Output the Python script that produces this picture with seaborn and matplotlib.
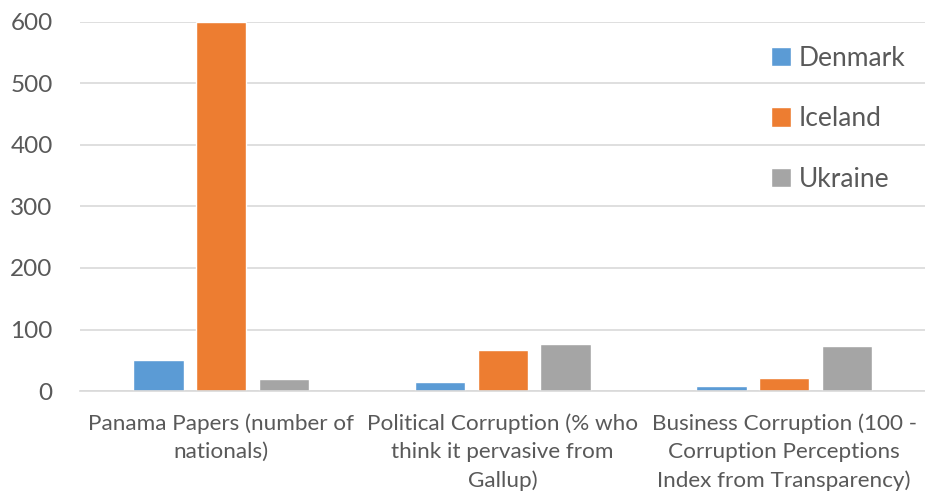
import matplotlib
matplotlib.use("Agg")
import matplotlib.pyplot as plt
import seaborn as sns
import pandas as pd

categories = ["Panama Papers (number of\nnationals)",
              "Political Corruption (% who\nthink it pervasive from\nGallup)",
              "Business Corruption (100 -\nCorruption Perceptions\nIndex from Transparency)"]
countries = ["Denmark", "Iceland", "Ukraine"]
denmark = [50, 15, 9]
iceland = [600, 67, 21]
ukraine = [19, 77, 73]
colors = ["#5B9BD5", "#ED7D31", "#A5A5A5"]

rows = []
for c, vals in zip(countries, [denmark, iceland, ukraine]):
    for cat, v in zip(categories, vals):
        rows.append({"category": cat, "country": c, "value": v})
df = pd.DataFrame(rows)

sns.set_theme(style="white")
plt.rcParams['font.family'] = ['Lato', 'DejaVu Sans']
text_color = "#595959"

fig = plt.figure(figsize=(9.25, 4.95), dpi=100)
ax = fig.add_axes([0.087, 0.21, 0.913, 0.746])
sns.barplot(data=df, x="category", y="value", hue="country", palette=colors,
            width=0.67, gap=0.2, ax=ax, saturation=1, errorbar=None)

ax.set_ylim(0, 600)
ax.set_xlim(-0.5, 2.5)
ax.set_yticks(range(0, 601, 100))
ax.yaxis.grid(True, color="#D9D9D9", linewidth=1.2)
ax.set_axisbelow(True)
for s in ["top", "right", "left"]:
    ax.spines[s].set_visible(False)
ax.spines["bottom"].set_color("#D9D9D9")
ax.spines["bottom"].set_linewidth(1.2)
ax.set_xlabel("")
ax.set_ylabel("")
ax.tick_params(axis="x", length=0, labelsize=16.2, colors=text_color, pad=16)
ax.tick_params(axis="y", length=0, labelsize=17.5, colors=text_color, pad=20)
for lab in ax.get_xticklabels():
    lab.set_linespacing(1.5)

leg = ax.legend(loc="upper right", bbox_to_anchor=(1.005, 1.0), frameon=False,
                fontsize=19, labelcolor=text_color, handlelength=0.75, handleheight=0.75,
                labelspacing=1.35, handletextpad=0.3)

fig.savefig("out.png", dpi=100)
